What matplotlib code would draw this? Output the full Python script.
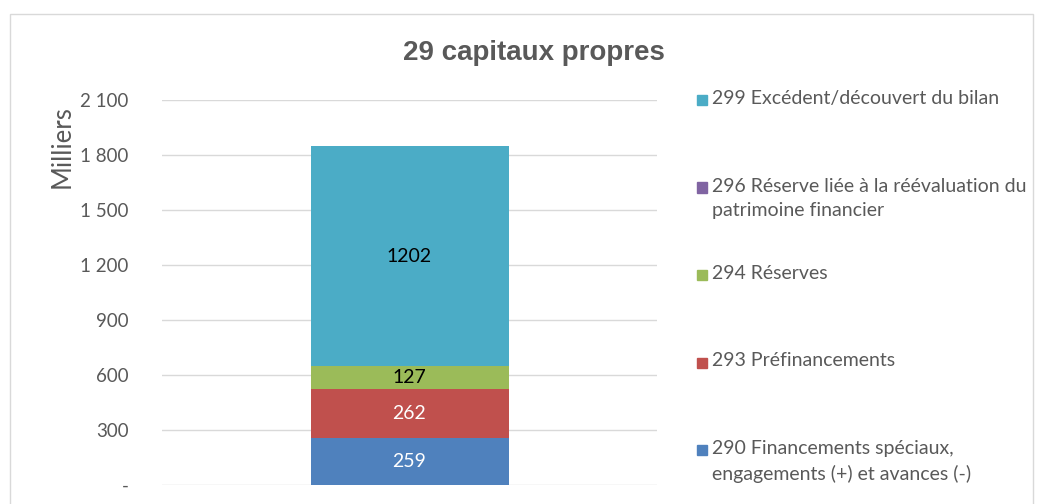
import matplotlib.pyplot as plt
from matplotlib.patches import Rectangle

# Données (milliers)
series = ['290 Financements spéciaux,\nengagements (+) et avances (-)',
          '293 Préfinancements',
          '294 Réserves',
          '296 Réserve liée à la réévaluation du\npatrimoine financier',
          '299 Excédent/découvert du bilan']
valeurs = [259, 262, 127, 0, 1202]
couleurs = ['#4F81BD', '#C0504D', '#9BBB59', '#8064A2', '#4BACC6']
couleurs_etiq = ['white', 'white', 'black', 'black', 'black']
graduations = [0, 300, 600, 900, 1200, 1500, 1800, 2100]

gris = '#595959'
plt.rcParams['font.family'] = ['Lato', 'DejaVu Sans']

fig = plt.figure(figsize=(10.43, 5.04), dpi=100)
ax = fig.add_axes([162/1043, 1 - 485/504, 495/1043, 385/504])

#Barre empilée
bas = 0
for nom, v, c, ce in zip(series, valeurs, couleurs, couleurs_etiq):
    ax.bar(0, v, bottom=bas, width=0.4, color=c, zorder=3)
    if v > 0:
        ax.text(0, bas + v / 2, str(v), ha='center', va='center',
                fontsize=14, color=ce, zorder=4)
    bas += v

ax.set_xlim(-0.5, 0.5)
ax.set_ylim(0, 2100)
ax.set_yticks(graduations)
ax.set_yticklabels(['-' if g == 0 else f'{g:,}'.replace(',', ' ') for g in graduations])
ax.tick_params(axis='y', length=0, labelsize=13.5, labelcolor=gris, pad=24)
ax.set_xticks([])
ax.grid(axis='y', color='#D9D9D9', linewidth=1, zorder=0)
for s in ax.spines.values():
    s.set_visible(False)

#Titre et axe
fig.text(534/1043, 1 - 53/504, '29 capitaux propres', ha='center', va='center',
         fontsize=20, fontweight='bold', color=gris, family='Liberation Sans')
fig.text(62/1043, 1 - 147/504, 'Milliers', rotation=90, ha='center', va='center',
         fontsize=18.5, color=gris)

#Légende manuelle (ordre inverse)
y0 = 100
for i, (nom, c) in enumerate(zip(series[::-1], couleurs[::-1])):
    y = y0 + i * 87.5
    fig.patches.append(Rectangle((697/1043, 1 - (y + 5)/504), 10/1043, 10/504,
                                 transform=fig.transFigure, color=c))
    fig.text(712/1043, 1 - (y - 10)/504, nom, ha='left', va='top',
             fontsize=14, color=gris, linespacing=1.55)

#Cadre
fig.patches.append(Rectangle((10/1043, -0.1), 1023/1043, 1.1 - 14/504,
                             transform=fig.transFigure, fill=False,
                             edgecolor='#D9D9D9', linewidth=1))

fig.savefig('out.png', dpi=100)
